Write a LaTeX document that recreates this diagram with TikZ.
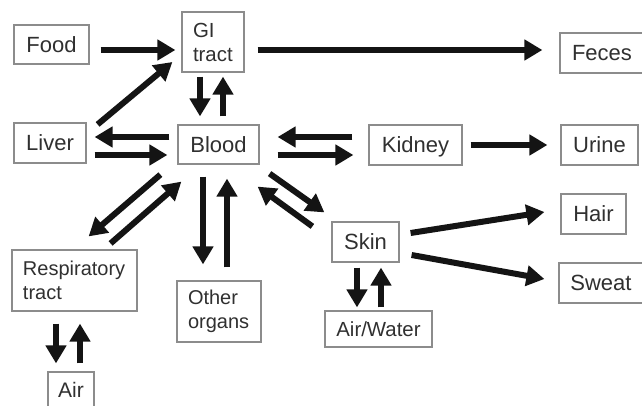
\documentclass[tikz,border=0pt]{standalone}
\usepackage{fontspec}
\setmainfont{Liberation Sans}
\usetikzlibrary{arrows.meta,calc}
\definecolor{boxgray}{HTML}{8C8C8C}
\definecolor{txt}{HTML}{303030}
\definecolor{arrowc}{HTML}{141414}
\begin{document}
\begin{tikzpicture}[x=1pt,y=-1pt,
  box/.style={draw=boxgray,line width=1.2pt,inner sep=0pt,text=txt,
    font=\fontsize{22}{26}\selectfont,text height=15.8pt,text depth=0pt},
  mbox/.style={draw=boxgray,line width=1.2pt,inner xsep=11pt,inner ysep=0pt,
    align=left,text=txt,font=\fontsize{20}{24}\selectfont},
  arr/.style={line width=6pt,draw=arrowc,-{Triangle[length=18pt,width=20pt]}}]
\useasboundingbox (0,0) rectangle (642,405);
\fill[white] (0,0) rectangle (642,405);
% boxes
\node[box,minimum width=75pt,minimum height=39pt] (food) at (51.5,44.5) {Food};
\node[mbox,text width=40pt,minimum height=60pt,font=\fontsize{20.4}{24}\selectfont] (gi) at (213,42) {GI\\tract};
\node[box,minimum width=72pt,minimum height=40pt] (liver) at (50,143) {Liver};
\node[box,minimum width=81pt,minimum height=39pt] (blood) at (218.5,144.5) {Blood};
\node[box,minimum width=84pt,minimum height=40pt] (feces) at (602,53) {Feces};
\node[box,minimum width=93pt,minimum height=40pt] (kidney) at (415.5,145) {Kidney};
\node[box,minimum width=77pt,minimum height=40pt] (urine) at (599.5,145) {Urine};
\node[box,minimum width=65pt,minimum height=40pt] (hair) at (593.5,214) {Hair};
\node[box,minimum width=84pt,minimum height=40pt] (sweat) at (601,283) {Sweat};
\node[box,minimum width=67pt,minimum height=40pt] (skin) at (365.5,242) {Skin};
\node[box,minimum width=107pt,minimum height=36pt,font=\fontsize{20.4}{24}\selectfont,text height=14.6pt] (airwater) at (378.5,329) {Air/Water};
\node[mbox,text width=103pt,minimum height=61pt] (resp) at (74.5,280.5) {Respiratory\\tract};
\node[mbox,text width=62pt,minimum height=61pt] (other) at (219,311.5) {Other\\organs};
\node[box,minimum width=46pt,minimum height=36pt,font=\fontsize{21}{25}\selectfont,text height=15pt] (air) at (71,390) {Air};
% arrows
\draw[arr] ($(food.east)+(11,5.5)$) -- ($(gi.west)+(-6,8)$);
\draw[arr] ($(gi.east)+(13,8)$) -- ($(feces.west)+(-17,-3)$);
\draw[arr] ($(liver.north east)+(11,2)$) -- ($(gi.west)+(-9,20)$);
\draw[arr] ($(gi.south)+(-13,4)$) -- ($(blood.north)+(-18.5,-8)$);
\draw[arr] ($(blood.north)+(4.5,-8)$) -- ($(gi.south)+(10,4)$);
\draw[arr] ($(blood.west)+(-8,-7.5)$) -- ($(liver.east)+(8,-6)$);
\draw[arr] ($(liver.east)+(8,12)$) -- ($(blood.west)+(-10,10.5)$);
\draw[arr] ($(kidney.west)+(-16,-8)$) -- ($(blood.east)+(18,-7.5)$);
\draw[arr] ($(blood.east)+(18,10.5)$) -- ($(kidney.west)+(-15,10)$);
\draw[arr] ($(kidney.east)+(8,0)$) -- ($(urine.west)+(-13,0)$);
\draw[arr] ($(blood.south west)+(-17,10)$) -- ($(resp.north east)+(-49,-13)$);
\draw[arr] ($(resp.north east)+(-27,-6)$) -- ($(blood.south west)+(4,17)$);
\draw[arr] ($(blood.south)+(-15.5,12)$) -- ($(other.north)+(-16,-16)$);
\draw[arr] ($(other.north)+(8,-13)$) -- ($(blood.south)+(8.5,14)$);
\draw[arr] ($(blood.south east)+(10,9)$) -- ($(skin.north west)+(-7,-9)$);
\draw[arr] ($(skin.north west)+(-19,5)$) -- ($(blood.south east)+(-2,22)$);
\draw[arr] ($(skin.east)+(11,-9)$) -- ($(hair.west)+(-16,-2)$);
\draw[arr] ($(skin.east)+(12,13)$) -- ($(sweat.west)+(-14,-4)$);
\draw[arr] ($(skin.south)+(-8.5,5)$) -- ($(airwater.north)+(-21.5,-3)$);
\draw[arr] ($(airwater.north)+(2.5,-3)$) -- ($(skin.south)+(15.5,5)$);
\draw[arr] ($(resp.south)+(-18.5,12)$) -- ($(air.north)+(-15,-8)$);
\draw[arr] ($(air.north)+(9,-8)$) -- ($(resp.south)+(5.5,12)$);
\end{tikzpicture}
\end{document}
